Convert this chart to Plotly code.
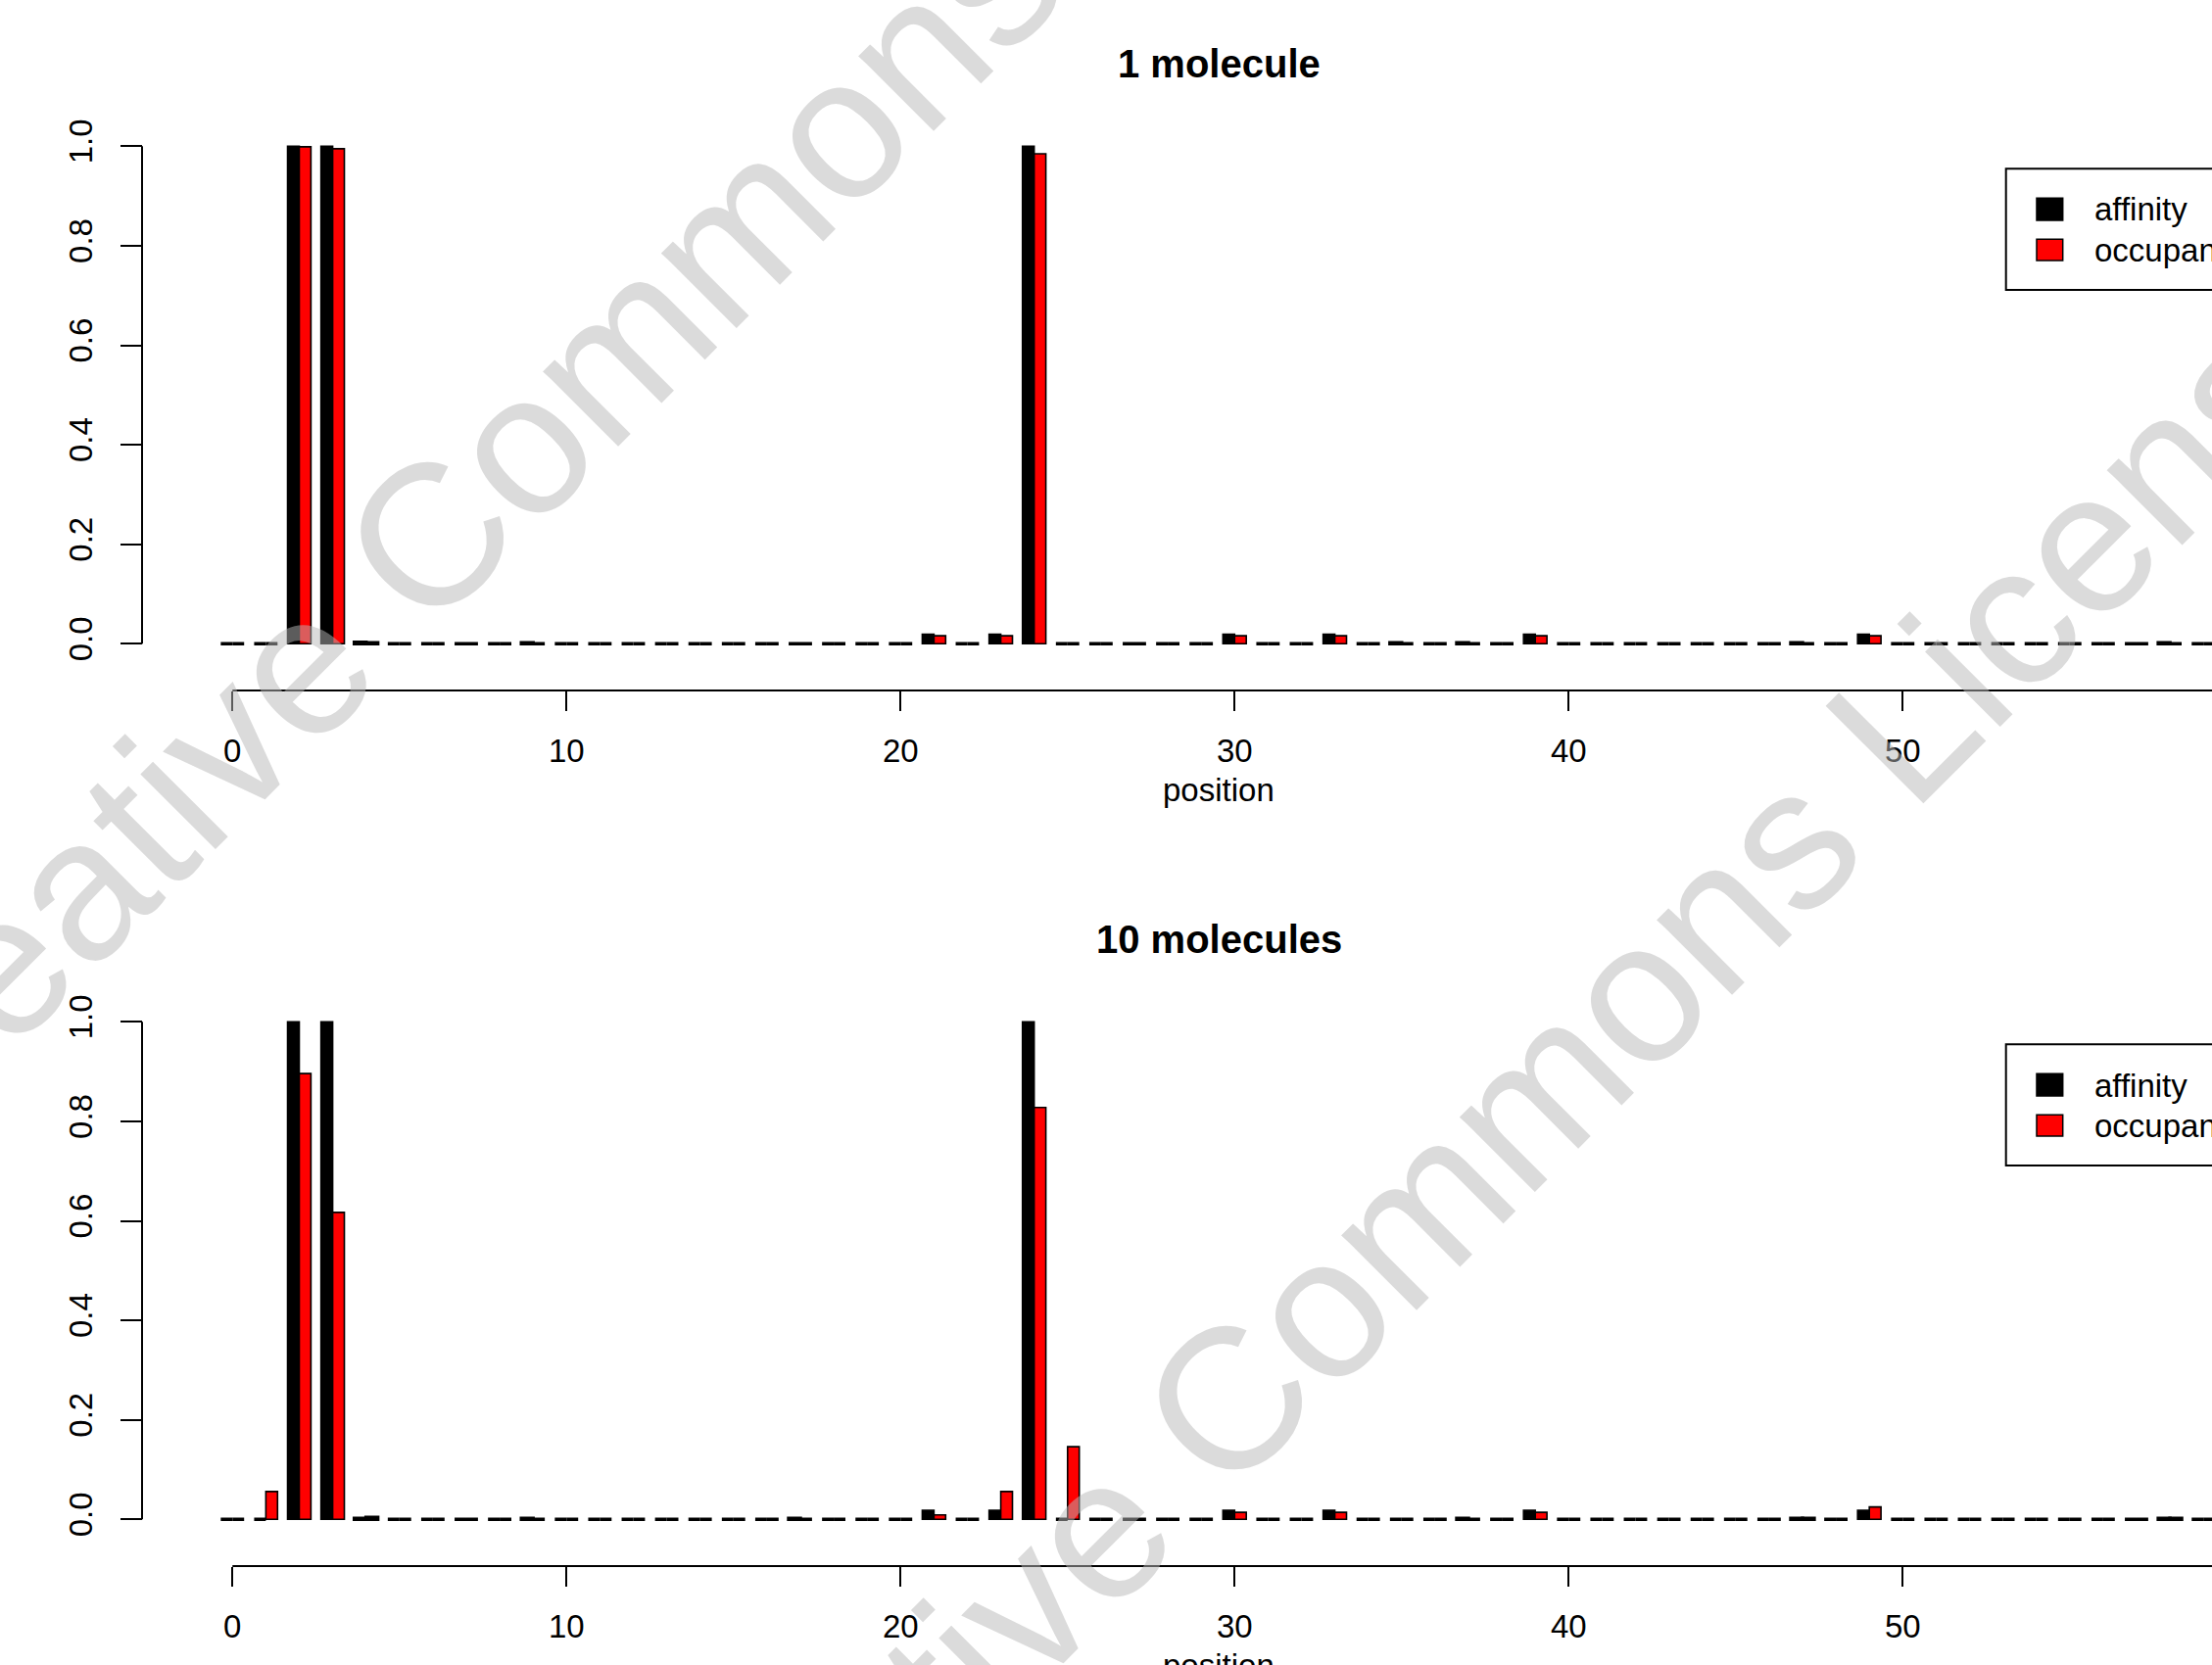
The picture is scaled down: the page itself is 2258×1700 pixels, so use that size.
import plotly.graph_objects as go

# ---------------- data ----------------
positions = list(range(0, 61))

affinity_1 = [
    0, 0, 1.0, 1.0, 0.003, 0, 0, 0, 0, 0.002,
    0, 0, 0, 0, 0, 0, 0, 0, 0, 0,
    0, 0.019, 0, 0.019, 1.0, 0, 0, 0, 0, 0,
    0.019, 0, 0, 0.019, 0, 0.002, 0, 0.002, 0, 0.019,
    0, 0, 0, 0, 0, 0, 0, 0.002, 0, 0.019,
    0, 0, 0, 0, 0, 0, 0, 0, 0.002, 0,
    0,
]
occupancy_1 = [
    0, 0, 0.999, 0.995, 0.002, 0, 0, 0, 0, 0,
    0, 0, 0, 0, 0, 0, 0, 0, 0, 0,
    0, 0.016, 0, 0.016, 0.985, 0, 0, 0, 0, 0,
    0.016, 0, 0, 0.016, 0, 0, 0, 0, 0, 0.016,
    0, 0, 0, 0, 0, 0, 0, 0, 0, 0.016,
    0, 0, 0, 0, 0, 0, 0, 0, 0, 0,
    0,
]
affinity_10 = [
    0, 0, 1.0, 1.0, 0.002, 0, 0, 0, 0, 0.002,
    0, 0, 0, 0, 0, 0, 0, 0.002, 0, 0,
    0, 0.018, 0, 0.018, 1.0, 0, 0, 0, 0, 0,
    0.018, 0, 0, 0.018, 0, 0, 0, 0.002, 0, 0.018,
    0, 0, 0, 0, 0, 0, 0, 0.002, 0, 0.018,
    0, 0, 0, 0, 0, 0, 0, 0, 0.002, 0,
    0,
]
occupancy_10 = [
    0, 0.056, 0.896, 0.617, 0.004, 0, 0, 0, 0, 0,
    0, 0, 0, 0, 0, 0, 0, 0, 0, 0,
    0, 0.009, 0, 0.056, 0.828, 0.146, 0, 0, 0, 0,
    0.014, 0, 0, 0.014, 0, 0, 0, 0, 0, 0.014,
    0, 0, 0, 0, 0, 0, 0, 0.002, 0, 0.025,
    0, 0, 0, 0, 0, 0, 0, 0, 0.002, 0,
    0,
]

panel_titles = ["1 molecule", "10 molecules"]
series_names = ["affinity", "occupancy"]
x_ticks = [0, 10, 20, 30, 40, 50, 60]
y_ticks = [0.0, 0.2, 0.4, 0.6, 0.8, 1.0]
y_ticktext = ["0.0", "0.2", "0.4", "0.6", "0.8", "1.0"]

# ---------------- layout geometry (pixels) ----------------
W, H = 2258, 1700
FONT = "Liberation Sans, Arial, Helvetica, sans-serif"
OFF = 894            # vertical offset between the two panels
PX_PER_UNIT = 34.1
X_LEFT_PX = 225
X_MIN = -0.36
X_MAX = X_MIN + (W - X_LEFT_PX) / PX_PER_UNIT
Y_TOP_PX = 129.0     # y = 1.04
Y_BOT_PX = 677.6     # y = -0.04
XAXIS_PX = 705
YAXIS_PX = 145


def py(p):
    return 1 - p / H


def px(p):
    return p / W


def border_widths(vals):
    # zero-height bars are drawn by R as a thick horizontal border
    return [3.5 if v < 0.005 else 1.6 for v in vals]


fig = go.Figure()

panels = [(affinity_1, occupancy_1), (affinity_10, occupancy_10)]
for i, (aff, occ) in enumerate(panels):
    xa = "x" if i == 0 else "x2"
    ya = "y" if i == 0 else "y2"
    fig.add_trace(go.Bar(x=positions, y=aff, name=series_names[0], xaxis=xa, yaxis=ya,
                         marker=dict(color="#000000",
                                     line=dict(color="#000000", width=border_widths(aff))),
                         showlegend=False, hoverinfo="skip"))
    fig.add_trace(go.Bar(x=positions, y=occ, name=series_names[1], xaxis=xa, yaxis=ya,
                         marker=dict(color="#FF0000",
                                     line=dict(color="#000000", width=border_widths(occ))),
                         showlegend=False, hoverinfo="skip"))

layout = dict(
    width=W, height=H,
    margin=dict(l=0, r=0, t=0, b=0, autoexpand=False),
    paper_bgcolor="white", plot_bgcolor="white",
    barmode="group", bargap=0.3, bargroupgap=0,
    showlegend=False,
    font=dict(family=FONT, size=33, color="black"),
)

shapes = []
annotations = []
for i in range(2):
    o = OFF * i
    sx = "" if i == 0 else "2"
    layout["xaxis" + sx] = dict(
        domain=[px(X_LEFT_PX), 1], range=[X_MIN, X_MAX],
        anchor="free", position=py(XAXIS_PX + o),
        tickvals=x_ticks, ticks="outside", ticklen=20, tickwidth=2, tickcolor="black",
        ticklabelstandoff=12,
        showline=False, showgrid=False, zeroline=False,
        tickfont=dict(family=FONT, size=33, color="black"),
    )
    layout["yaxis" + sx] = dict(
        domain=[py(Y_BOT_PX + o), py(Y_TOP_PX + o)], range=[-0.04, 1.04],
        anchor="free", position=px(YAXIS_PX),
        tickvals=y_ticks, ticktext=y_ticktext, tickangle=-90,
        ticks="outside", ticklen=22, tickwidth=2, tickcolor="black",
        ticklabelstandoff=16,
        showline=False, showgrid=False, zeroline=False,
        tickfont=dict(family=FONT, size=33, color="black"),
    )
    # axis lines (R style: spanning first to last tick)
    shapes.append(dict(type="line", xref="x" + sx, yref="paper", x0=0, x1=60,
                       y0=py(XAXIS_PX + o), y1=py(XAXIS_PX + o),
                       line=dict(color="black", width=2)))
    shapes.append(dict(type="line", xref="paper", yref="y" + sx, x0=px(YAXIS_PX), x1=px(YAXIS_PX),
                       y0=0, y1=1, line=dict(color="black", width=2)))
    # titles
    annotations.append(dict(text="<b>" + panel_titles[i] + "</b>", xref="paper", yref="paper",
                            x=px(1244), y=py(65 + o), xanchor="center", yanchor="middle",
                            showarrow=False, font=dict(family=FONT, size=40, color="black")))
    annotations.append(dict(text="position", xref="paper", yref="paper",
                            x=px(1244), y=py(806 + o), xanchor="center", yanchor="middle",
                            showarrow=False, font=dict(family=FONT, size=33, color="black")))
    # legend box
    shapes.append(dict(type="rect", xref="paper", yref="paper",
                       x0=px(2047.7), x1=px(2330), y0=py(172.3 + o), y1=py(296 + o),
                       line=dict(color="black", width=2), fillcolor="white", layer="above"))
    shapes.append(dict(type="rect", xref="paper", yref="paper",
                       x0=px(2079), x1=px(2105.7), y0=py(202.3 + o), y1=py(225 + o),
                       line=dict(color="black", width=1.5), fillcolor="#000000", layer="above"))
    shapes.append(dict(type="rect", xref="paper", yref="paper",
                       x0=px(2079), x1=px(2105.7), y0=py(244.3 + o), y1=py(266 + o),
                       line=dict(color="black", width=1.5), fillcolor="#FF0000", layer="above"))
    annotations.append(dict(text=series_names[0], xref="paper", yref="paper",
                            x=px(2136), y=py(214 + o), xanchor="left", yanchor="middle",
                            showarrow=False, font=dict(family=FONT, size=33, color="black")))
    annotations.append(dict(text=series_names[1], xref="paper", yref="paper",
                            x=px(2136), y=py(255 + o), xanchor="left", yanchor="middle",
                            showarrow=False, font=dict(family=FONT, size=33, color="black")))

# watermark
for cx, cy in [(695, 290), (1510, 1172)]:
    annotations.append(dict(text="Creative Commons License", xref="paper", yref="paper",
                            x=px(cx), y=py(cy), xanchor="center", yanchor="middle",
                            textangle=-45, showarrow=False,
                            font=dict(family=FONT, size=205, color="rgba(184,184,184,0.5)")))

layout["shapes"] = shapes
layout["annotations"] = annotations
fig.update_layout(**layout)

fig.write_html(
    "out.html",
    config={"displayModeBar": False, "staticPlot": True},
    post_script="document.body.style.margin='0';document.body.style.padding='0';"
                "document.body.style.overflow='hidden';",
)
